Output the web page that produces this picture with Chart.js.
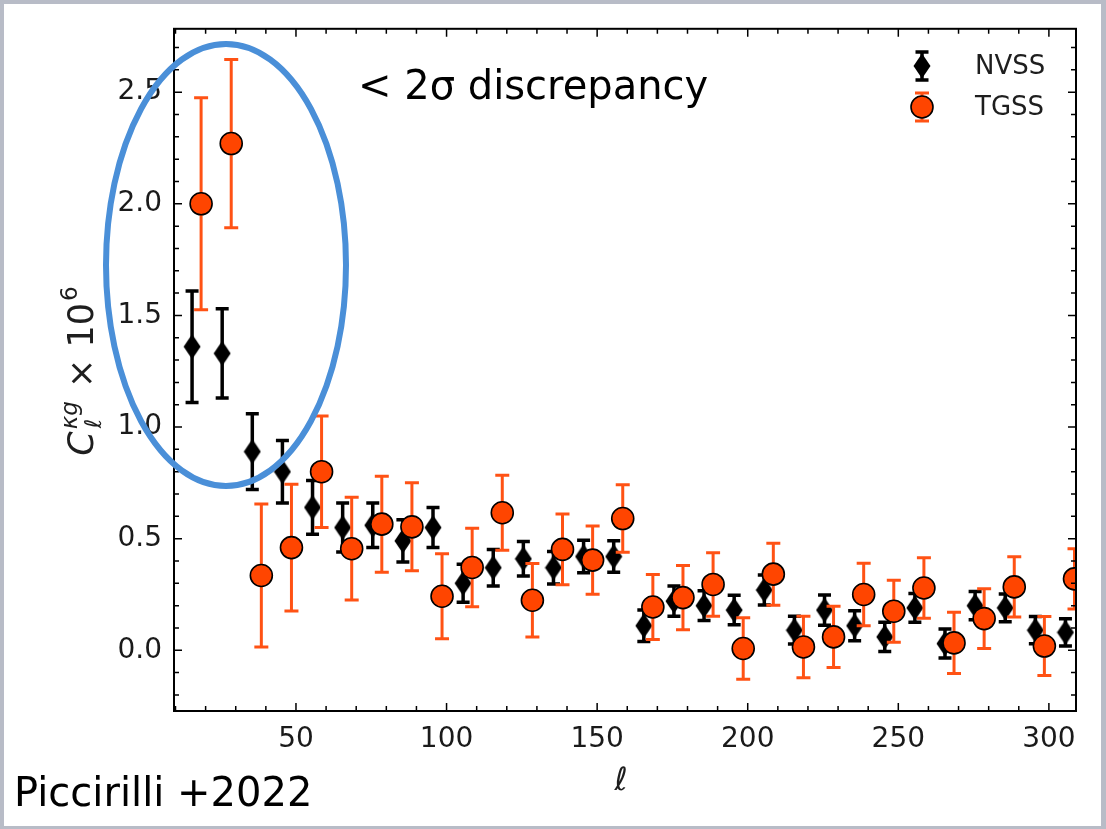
<!DOCTYPE html>
<html>
<head>
<meta charset="utf-8">
<script src="https://cdn.jsdelivr.net/npm/chart.js@4.4.1/dist/chart.umd.min.js"></script>
<style>
  body { margin: 0; background: #b8bcc7; }
  #panel { position: absolute; left: 4px; top: 4px; width: 1097px; height: 822px; background: #ffffff; }
  #chart { position: absolute; left: 0; top: 0; }
</style>
</head>
<body>
<div id="panel"></div>
<canvas id="chart" width="1106" height="829"></canvas>
<script>
// multipoles (bin centres, TGSS shifted right a little)
const ellNVSS = [15.5, 25.5, 35.5, 45.5, 55.5, 65.5, 75.5, 85.5, 95.5, 105.5,
                 115.5, 125.5, 135.5, 145.5, 155.5, 165.5, 175.5, 185.5, 195.5, 205.5,
                 215.5, 225.5, 235.5, 245.5, 255.5, 265.5, 275.5, 285.5, 295.5, 305.5];
const ellTGSS = [18.5, 28.5, 38.5, 48.5, 58.5, 68.5, 78.5, 88.5, 98.5, 108.5,
                 118.5, 128.5, 138.5, 148.5, 158.5, 168.5, 178.5, 188.5, 198.5, 208.5,
                 218.5, 228.5, 238.5, 248.5, 258.5, 268.5, 278.5, 288.5, 298.5, 308.5];

// C_l^{kappa g} x 10^6
const clNVSS = [1.36, 1.33, 0.89, 0.80, 0.64, 0.55, 0.56, 0.49, 0.55, 0.30,
                0.37, 0.41, 0.37, 0.42, 0.42, 0.11, 0.22, 0.20, 0.18, 0.27,
                0.09, 0.18, 0.11, 0.06, 0.19, 0.03, 0.20, 0.19, 0.09, 0.08];
const errNVSS = [0.25, 0.20, 0.17, 0.14, 0.12, 0.11, 0.10, 0.095, 0.09, 0.085,
                 0.082, 0.077, 0.073, 0.073, 0.071, 0.071, 0.068, 0.067, 0.066, 0.067,
                 0.062, 0.068, 0.067, 0.066, 0.064, 0.065, 0.063, 0.062, 0.061, 0.061];

const clTGSS = [2.00, 2.27, 0.335, 0.46, 0.80, 0.455, 0.565, 0.553, 0.242, 0.371,
                0.616, 0.224, 0.452, 0.404, 0.59, 0.194, 0.236, 0.295, 0.008, 0.341,
                0.015, 0.06, 0.25, 0.175, 0.279, 0.033, 0.142, 0.284, 0.019, 0.32];
const errTGSS = [0.475, 0.377, 0.32, 0.284, 0.25, 0.23, 0.215, 0.197, 0.19, 0.176,
                 0.168, 0.165, 0.158, 0.153, 0.151, 0.146, 0.144, 0.142, 0.138, 0.139,
                 0.138, 0.137, 0.14, 0.139, 0.136, 0.137, 0.134, 0.135, 0.132, 0.135];

const xTicks = [50, 100, 150, 200, 250, 300];
const yTicks = [0.0, 0.5, 1.0, 1.5, 2.0, 2.5];
const seriesLabels = ['NVSS', 'TGSS'];

const ORANGE = '#ff4500';
const ORANGE_BAR = '#ff5214';
const FONT = "'DejaVu Sans', sans-serif";

// tall thin diamond marker like matplotlib 'd'
function makeDiamond() {
    const c = document.createElement('canvas');
    c.width = 18; c.height = 26;
    const g = c.getContext('2d');
    g.beginPath();
    g.moveTo(9, 0.5); g.lineTo(17.5, 13); g.lineTo(9, 25.5); g.lineTo(0.5, 13);
    g.closePath();
    g.fillStyle = '#000';
    g.fill();
    return c;
}
const diamond = makeDiamond();

const errorSets = [errNVSS, errTGSS];
const barStyle = [
    { color: '#000000', cap: 6.5, width: 3.5 },
    { color: ORANGE_BAR, cap: 7, width: 3 }
];

function drawBar(ctx, px, top, bot, st) {
    ctx.strokeStyle = st.color;
    ctx.lineWidth = st.width;
    ctx.beginPath();
    ctx.moveTo(px, top); ctx.lineTo(px, bot);
    ctx.moveTo(px - st.cap, top); ctx.lineTo(px + st.cap, top);
    ctx.moveTo(px - st.cap, bot); ctx.lineTo(px + st.cap, bot);
    ctx.stroke();
}

const errorBars = {
    id: 'errorBars',
    beforeDatasetDraw(chart, args) {
        const { ctx, chartArea, scales: { x, y } } = chart;
        const ds = chart.data.datasets[args.index];
        const errs = errorSets[args.index];
        ctx.save();
        ctx.beginPath();
        ctx.rect(chartArea.left, chartArea.top, chartArea.width, chartArea.height);
        ctx.clip();
        ds.data.forEach((p, i) => {
            const px = x.getPixelForValue(p.x);
            drawBar(ctx, px, y.getPixelForValue(p.y + errs[i]), y.getPixelForValue(p.y - errs[i]), barStyle[args.index]);
        });
        ctx.restore();
    }
};

// frame, inward ticks, axis titles, legend and slide annotations
const decorations = {
    id: 'decorations',
    afterDatasetsDraw(chart) {
        const { ctx, chartArea: a, scales: { x, y } } = chart;
        ctx.save();
        ctx.strokeStyle = '#000';
        ctx.lineWidth = 2;
        ctx.strokeRect(a.left, a.top, a.width, a.height);

        ctx.lineWidth = 1.5;
        ctx.beginPath();
        for (let k = 1; k <= 30; k++) {
            const px = x.getPixelForValue(k * 10);
            if (px <= a.left || px >= a.right) continue;
            const len = k % 5 === 0 ? 8 : 5;
            ctx.moveTo(px, a.bottom); ctx.lineTo(px, a.bottom - len);
            ctx.moveTo(px, a.top); ctx.lineTo(px, a.top + len);
        }
        for (let k = -2; k <= 27; k++) {
            const py = y.getPixelForValue(k / 10);
            if (py <= a.top || py >= a.bottom) continue;
            const len = k % 5 === 0 ? 8 : 5;
            ctx.moveTo(a.left, py); ctx.lineTo(a.left + len, py);
            ctx.moveTo(a.right, py); ctx.lineTo(a.right - len, py);
        }
        ctx.stroke();

        // legend
        const lx = 922;
        const rows = [66, 107];
        drawBar(ctx, lx, rows[0] - 14, rows[0] + 14, barStyle[0]);
        ctx.drawImage(diamond, lx - 9, rows[0] - 13);
        drawBar(ctx, lx, rows[1] - 14, rows[1] + 14, barStyle[1]);
        ctx.beginPath();
        ctx.arc(lx, rows[1], 11, 0, Math.PI * 2);
        ctx.fillStyle = ORANGE; ctx.fill();
        ctx.lineWidth = 1.6; ctx.strokeStyle = '#000'; ctx.stroke();
        ctx.fillStyle = '#1e1e1e';
        ctx.font = '26px ' + FONT;
        ctx.textBaseline = 'middle';
        ctx.textAlign = 'left';
        ctx.fillText(seriesLabels[0], 975, rows[0] + 1);
        ctx.fillText(seriesLabels[1], 975, rows[1] + 1);

        // x title
        ctx.font = 'italic 32px ' + FONT;
        ctx.textAlign = 'center';
        ctx.textBaseline = 'alphabetic';
        ctx.fillText('\u2113', (a.left + a.right) / 2 - 4, 790);

        // y title: C_l^{kg} x 10^6, rotated
        ctx.translate(93, 370);
        ctx.rotate(-Math.PI / 2);
        const big = 'italic 35px ' + FONT, small = 'italic 23px ' + FONT;
        const bigUp = '35px ' + FONT, smallUp = '23px ' + FONT;
        const parts = [
            { t: 'C', f: big, dy: 0 },
            { t: '\u03ba' + 'g', f: small, dy: -16, sub: '\u2113' },
            { t: ' \u00d7 10', f: bigUp, dy: 0 },
            { t: '6', f: smallUp, dy: -16 }
        ];
        let total = 0;
        parts.forEach(p => { ctx.font = p.f; p.w = ctx.measureText(p.t).width + 2; total += p.w; });
        let cx = -total / 2;
        ctx.textAlign = 'left';
        parts.forEach(p => {
            ctx.font = p.f;
            ctx.fillText(p.t, cx, p.dy);
            if (p.sub) ctx.fillText(p.sub, cx + 1, 8);
            cx += p.w;
        });
        ctx.restore();
    },
    afterDraw(chart) {
        const ctx = chart.ctx;
        ctx.save();
        ctx.strokeStyle = '#4a8fd8';
        ctx.lineWidth = 6;
        ctx.beginPath();
        ctx.ellipse(226, 265, 120, 221, 0, 0, Math.PI * 2);
        ctx.stroke();

        ctx.fillStyle = '#000';
        ctx.font = '40px ' + FONT;
        ctx.textAlign = 'left';
        ctx.textBaseline = 'alphabetic';
        ctx.fillText('< 2\u03c3 discrepancy', 358, 99);
        ctx.fillText('Piccirilli +2022', 14, 806);
        ctx.restore();
    }
};

new Chart(document.getElementById('chart'), {
    type: 'scatter',
    data: {
        datasets: [{
            label: seriesLabels[0],
            data: ellNVSS.map((l, i) => ({ x: l, y: clNVSS[i] })),
            pointStyle: diamond,
            order: 1,
            clip: 0
        }, {
            label: seriesLabels[1],
            data: ellTGSS.map((l, i) => ({ x: l, y: clTGSS[i] })),
            pointStyle: 'circle',
            pointRadius: 11,
            backgroundColor: ORANGE,
            borderColor: '#000000',
            borderWidth: 1.6,
            order: 0,
            clip: 0
        }]
    },
    options: {
        responsive: false,
        animation: false,
        layout: { padding: { top: 28, right: 30, left: 0, bottom: 0 } },
        plugins: {
            legend: { display: false },
            tooltip: { enabled: false }
        },
        scales: {
            x: {
                type: 'linear',
                min: 9.5,
                max: 309,
                afterFit: s => { s.height = 118; },
                afterBuildTicks: s => { s.ticks = xTicks.map(v => ({ value: v })); },
                grid: { display: false, drawTicks: false },
                border: { display: false },
                ticks: {
                    padding: 12,
                    color: '#1a1a1a',
                    font: { family: FONT, size: 28 },
                    maxRotation: 0
                }
            },
            y: {
                type: 'linear',
                min: -0.272,
                max: 2.784,
                afterFit: s => { s.width = 174; },
                afterBuildTicks: s => { s.ticks = yTicks.map(v => ({ value: v })); },
                grid: { display: false, drawTicks: false },
                border: { display: false },
                ticks: {
                    padding: 12,
                    color: '#1a1a1a',
                    font: { family: FONT, size: 28 },
                    callback: v => v.toFixed(1)
                }
            }
        }
    },
    plugins: [errorBars, decorations]
});
</script>
</body>
</html>
